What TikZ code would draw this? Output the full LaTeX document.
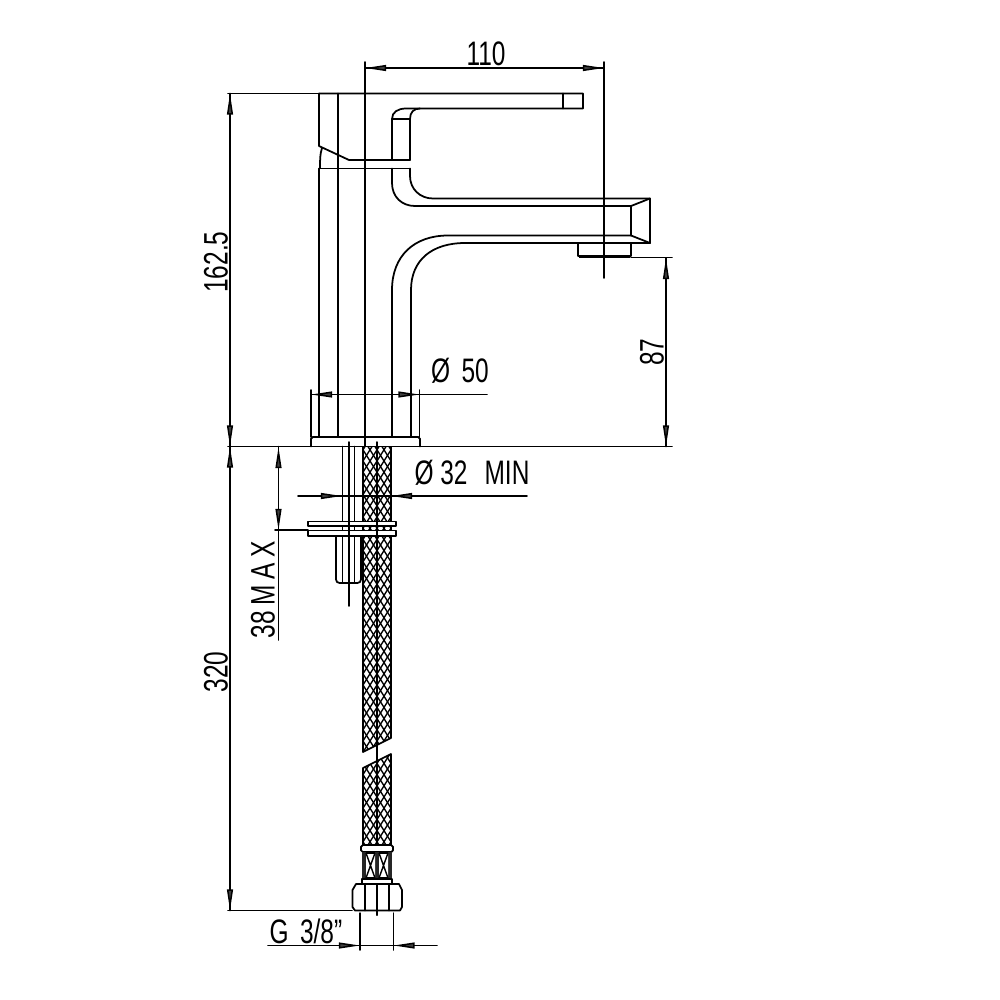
\documentclass[tikz,border=0pt]{standalone}
\usepackage{fontspec}
\setmainfont[FakeStretch=0.72]{Liberation Sans}
\newfontfamily\spaced[FakeStretch=0.72,LetterSpace=16]{Liberation Sans}
\usetikzlibrary{arrows.meta}
\tikzset{
  ln/.style={line width=1.5pt,line cap=round,line join=round},
  thin line/.style={line width=1.3pt,line cap=round},
  arr/.style={line width=1.3pt,-{Triangle[length=18pt,width=5pt,fill=black!75]}},
  lbl/.style={inner sep=0pt,font=\fontsize{29}{29}\selectfont},
}
\begin{document}
\begin{tikzpicture}[x=0.03cm,y=-0.03cm]
\useasboundingbox (0,0) rectangle (1000,1000);
\fill[white] (0,0) rectangle (1000,1000);
% handle and body top
\draw[ln] (319,93.5)--(583,93.5)--(583,108.5)--(420,108.5) .. controls (414,108.5) and (410,112) .. (410,119)--(410,160);
\draw[ln] (563,93.5)--(563,108.5);
\draw[ln] (420,108.5)--(406,108.5) .. controls (398,108.5) and (392,112) .. (392,119)--(392,160);
\draw[ln] (392,119)--(410,119);
\draw[ln] (319,93.5)--(319,146)--(349,160)--(410,160);
\draw[ln] (322,148) .. controls (320,154) and (320,160) .. (320,168);
\draw[ln] (319,168.5)--(410,168.5);
% spout
\draw[ln] (392,168.5)--(392,183) .. controls (392,197) and (402,206) .. (415,206)--(631,206)--(650,198.5)--(650,243)--(631,235.5)--(631,206);
\draw[ln] (410,168.5)--(410,176) .. controls (410,189) and (420,198.5) .. (433,198.5)--(650,198.5);
\draw[ln] (631,235.5)--(448,235.5) .. controls (414,235.5) and (392,256) .. (392,290)--(392,436);
\draw[ln] (650,243)--(465,243) .. controls (432,243) and (411,260) .. (411,290)--(411,436);
% aerator
\draw[ln] (578,243.5)--(578,256)--(631,256)--(631,243);
\draw[line width=2.2pt] (579,257)--(630,257);
% body lines
\draw[ln] (319,168.5)--(319,436);
\draw[ln] (338,93.5)--(338,436);
\draw[thin line] (365,62)--(365,446);
\draw[thin line] (604,62)--(604,278);
% base
\draw[ln] (319,436.5)--(411,436.5);
\draw[ln,rounded corners=1.5pt] (311,446.5)--(311,437)--(420,437)--(420,446.5);
\draw[thin line] (311,390)--(311,437) (419.5,390)--(419.5,437);
% floor / reference lines
\draw[ln] (228,446.5)--(672,446.5);
\draw[ln] (228,93.5)--(319,93.5);
\draw[ln] (228,910.5)--(352,910.5);
\draw[thin line] (631,257.5)--(672,257.5);
% dimension lines
\draw[thin line] (365,68)--(604,68);
\draw[arr] (390,68)--(365,68);
\draw[arr] (580,68)--(604,68);
\draw[thin line] (230,93.5)--(230,910.5);
\draw[arr] (230,118)--(230,93.5);
\draw[arr] (230,422)--(230,446.5);
\draw[arr] (230,471)--(230,446.5);
\draw[arr] (230,886)--(230,910.5);
\draw[thin line] (666,258)--(666,446.5);
\draw[arr] (666,282)--(666,258);
\draw[arr] (666,422)--(666,446.5);
\draw[thin line] (311,394.5)--(487,394.5);
\draw[arr] (333,394.5)--(311,394.5);
\draw[arr] (397,394.5)--(419.5,394.5);
% stem below deck
\draw[ln] (342.5,446.5)--(342.5,521) (354.5,446.5)--(354.5,521);
\draw[ln] (342.5,526)--(342.5,530) (354.5,526)--(354.5,530);
\draw[thin line] (349,442)--(349,606);
% braid
\begin{scope}
\clip (363,447)--(391,447)--(391,738)--(363,752)--cycle (363,768)--(391,754)--(391,845)--(363,845)--cycle;
\foreach \k in {0,...,40}{
  \pgfmathsetmacro{\yy}{405+\k*11.2}
  \draw[line width=1.15pt] (363,\yy)--(391,\yy+44.8);
  \draw[line width=1.15pt] (391,\yy)--(363,\yy+44.8);
}
\end{scope}
\draw[ln] (363,447)--(363,752)--(391,738)--(391,447);
\draw[ln] (363,845)--(363,768)--(391,754)--(391,845);
\draw[thin line] (377,442)--(377,915);
% washers
\draw[ln,fill=white] (308,521.5) rectangle (396,526);
\draw[ln,fill=white] (308,530.5) rectangle (396,536);
\draw[thin line] (349,515)--(349,540) (377,515)--(377,540);
\draw[thin line] (275,530)--(308,530);
% nut on stem
\draw[ln,rounded corners=3pt] (336,537)--(336,583)--(361,583)--(361,537);
\draw[ln] (342.5,537)--(342.5,583) (354.5,537)--(354.5,583);
% dim 32
\draw[thin line] (298,496)--(527,496);
\draw[arr] (320,496)--(342,496);
\draw[arr] (413,496)--(391,496);
% dim 38
\draw[thin line] (278.5,446.5)--(278.5,640);
\draw[arr] (278.5,469)--(278.5,447);
\draw[arr] (278.5,507)--(278.5,530);
% ferrule
\draw[ln,rounded corners=1.5pt,fill=white] (361,852)--(361,845)--(393,845)--(393,852)--cycle;
\fill[black!85] (362,852) rectangle (392,879);
\fill[white] (366,853) rectangle (375,878) (379,853) rectangle (388,878);
\draw[line width=1.2pt] (366,853)--(375,878) (375,853)--(366,878) (379,853)--(388,878) (388,853)--(379,878);
\draw[line width=1.2pt] (366,853)--(375,853) (366,878)--(375,878) (379,853)--(388,853) (379,878)--(388,878);
\draw[ln,fill=white] (362,879) rectangle (392,884);
% connector nut
\draw[ln,fill=white] (352.5,890)--(356,884)--(399,884)--(402,890)--(402,907)--(400,910.5)--(355,910.5)--(352.5,907)--cycle;
\draw[ln] (365,884)--(365,910.5) (389,884)--(389,910.5);
\draw[thin line] (377,884)--(377,915);
% dim G
\draw[thin line] (360,913)--(360,950) (393.5,913)--(393.5,950);
\draw[thin line] (268,945.5)--(437,945.5);
\draw[arr] (338,945.5)--(360,945.5);
\draw[arr] (416,945.5)--(393.5,945.5);
% labels
\node[lbl] (t110) at (486,53.5) {110};
\node[lbl,rotate=90] (t162) at (216,262) {162.5};
\node[lbl,rotate=90] (t87) at (652,352) {87};
\node[lbl] (t50) at (460,371) {Ø\,\,50};
\node[lbl] (t32) at (472,473) {Ø 32\,\,\,MIN};
\node[lbl,rotate=90] (t38) at (263,590) {38\,{\spaced MAX}};
\node[lbl,rotate=90] (t320) at (216,672) {320};
\node[lbl] (tg) at (306,931) {G\,\,3/8"};
\end{tikzpicture}
\end{document}
